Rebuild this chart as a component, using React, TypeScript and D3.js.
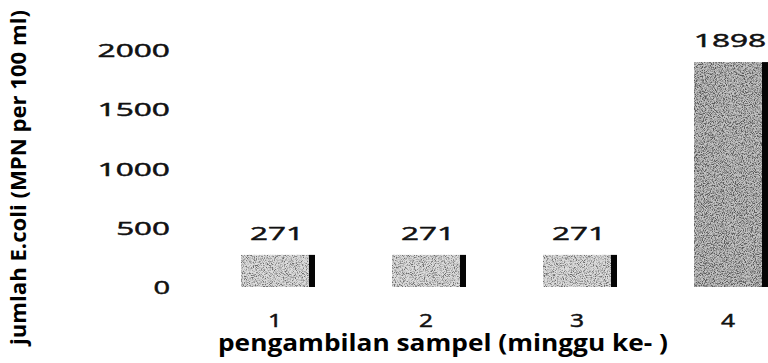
import React from "react";
import * as d3 from "d3";

const categories = ["1", "2", "3", "4"];
const values = [271, 271, 271, 1898];
const yTicks = [0, 500, 1000, 1500, 2000];
const xTitle = "pengambilan sampel (minggu ke- )";
const yTitle = "jumlah E.coli (MPN per 100 ml)";

const W = 768;
const H = 363;

export default function App() {
  const x = d3.scaleBand<string>().domain(categories).range([241, 768]).paddingInner(0.51).paddingOuter(0);
  const y = d3.scaleLinear().domain([0, 2000]).range([287, 50]);
  const bw = x.bandwidth();
  const edge = 6;
  const font = "'Open Sans', sans-serif";
  const charW = 18.6;

  return (
    <svg width={W} height={H} style={{ position: "absolute", left: 0, top: 0, background: "#fff" }}>
      <defs>
        <filter id="speckle" x="0" y="0" width="100%" height="100%">
          <feTurbulence type="fractalNoise" baseFrequency="1.1" numOctaves="2" seed="7" result="t" />
          <feColorMatrix in="t" type="matrix"
            values="0 0 0 0 0.15  0 0 0 0 0.15  0 0 0 0 0.15  0 0 0 -3.2 1.85" result="dots" />
          <feComposite in="dots" in2="SourceGraphic" operator="in" result="d2" />
          <feMerge>
            <feMergeNode in="SourceGraphic" />
            <feMergeNode in="d2" />
          </feMerge>
        </filter>
        <filter id="speckleDark" x="0" y="0" width="100%" height="100%">
          <feTurbulence type="fractalNoise" baseFrequency="1.1" numOctaves="2" seed="11" result="t" />
          <feColorMatrix in="t" type="matrix"
            values="0 0 0 0 0.1  0 0 0 0 0.1  0 0 0 0 0.1  0 0 0 -3.2 2.0" result="dots" />
          <feComposite in="dots" in2="SourceGraphic" operator="in" result="d2" />
          <feMerge>
            <feMergeNode in="SourceGraphic" />
            <feMergeNode in="d2" />
          </feMerge>
        </filter>
      </defs>

      {/* y tick labels */}
      {yTicks.map((t) => {
        const s = String(t);
        const len = s.length * charW - 2;
        return (
          <text key={t} x={170 - len} y={y(t) + 7} fontFamily={font} fontSize={19}
            textLength={len} lengthAdjust="spacingAndGlyphs" fill="#111" stroke="#111" strokeWidth={0.5}>
            {s}
          </text>
        );
      })}

      {/* bars */}
      {categories.map((c, i) => {
        const x0 = x(c)!;
        const top = y(values[i]);
        const h = y(0) - top;
        const dark = values[i] > 1000;
        return (
          <g key={c}>
            <rect x={x0} y={top} width={bw - edge} height={h}
              fill={dark ? "#c4c4c4" : "#dcdcdc"}
              filter={dark ? "url(#speckleDark)" : "url(#speckle)"} />
            <rect x={x0 + bw - edge} y={top} width={edge} height={h} fill="#050505" />
          </g>
        );
      })}

      {/* value labels */}
      {categories.map((c, i) => {
        const s = String(values[i]);
        const len = s.length * charW - 2;
        const cx = x(c)! + (bw - edge) / 2 + 2;
        return (
          <text key={c} x={cx - len / 2} y={y(values[i]) - 15} fontFamily={font} fontSize={19}
            textLength={len} lengthAdjust="spacingAndGlyphs" fill="#111" stroke="#111" strokeWidth={0.5}>
            {s}
          </text>
        );
      })}

      {/* x tick labels */}
      {categories.map((c) => {
        const cx = x(c)! + (bw - edge) / 2;
        return (
          <text key={c} x={cx - 7} y={327} fontFamily={font} fontSize={18}
            textLength={14} lengthAdjust="spacingAndGlyphs" fill="#111" stroke="#111" strokeWidth={0.5}>
            {c}
          </text>
        );
      })}

      {/* x title */}
      <text x={218} y={351} fontFamily={font} fontWeight="bold" fontSize={23}
        textLength={450} lengthAdjust="spacingAndGlyphs" fill="#000">
        {xTitle}
      </text>

      {/* y title */}
      <text transform="translate(26,345) rotate(-90)" x={0} y={0} fontFamily={font}
        fontWeight="bold" fontSize={22} textLength={335} lengthAdjust="spacingAndGlyphs" fill="#000">
        {yTitle}
      </text>
    </svg>
  );
}
